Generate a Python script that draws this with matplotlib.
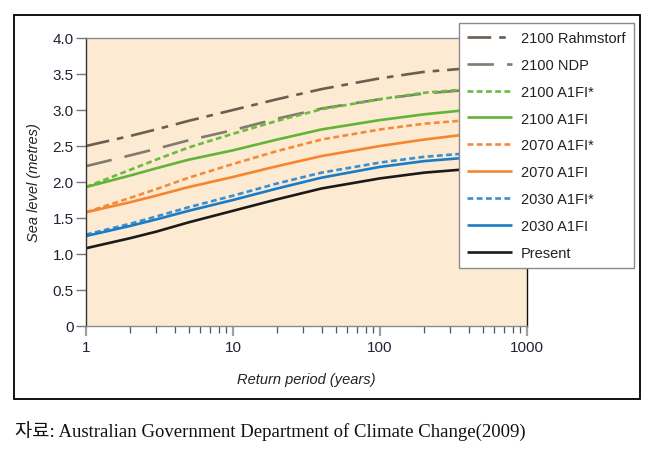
import matplotlib
matplotlib.use("Agg")
import matplotlib.pyplot as plt
from matplotlib.patches import Rectangle
from matplotlib.ticker import FixedLocator, LogLocator, NullFormatter

# Return period (years) and sea level (metres)
return_period = [1, 2, 3, 5, 10, 20, 40, 100, 200, 350, 1000]

rahmstorf_2100 = [2.50, 2.64, 2.73, 2.85, 3.00, 3.15, 3.29, 3.44, 3.53, 3.57, 3.60]
ndp_2100 = [2.22, 2.37, 2.46, 2.58, 2.72, 2.88, 3.02, 3.15, 3.23, 3.27, 3.30]
a1fi_star_2100 = [1.93, 2.17, 2.31, 2.48, 2.67, 2.85, 3.01, 3.15, 3.24, 3.28, 3.31]
a1fi_2100 = [1.93, 2.09, 2.19, 2.31, 2.44, 2.59, 2.73, 2.86, 2.94, 2.99, 3.02]
a1fi_star_2070 = [1.58, 1.78, 1.90, 2.06, 2.25, 2.43, 2.59, 2.73, 2.81, 2.85, 2.88]
a1fi_2070 = [1.58, 1.72, 1.81, 1.93, 2.07, 2.22, 2.36, 2.50, 2.59, 2.65, 2.68]
a1fi_star_2030 = [1.27, 1.42, 1.52, 1.65, 1.81, 1.98, 2.13, 2.27, 2.35, 2.39, 2.42]
a1fi_2030 = [1.25, 1.39, 1.48, 1.60, 1.75, 1.91, 2.06, 2.21, 2.29, 2.33, 2.36]
present = [1.08, 1.22, 1.31, 1.44, 1.60, 1.76, 1.91, 2.05, 2.13, 2.17, 2.20]

y_ticks = [0, 0.5, 1.0, 1.5, 2.0, 2.5, 3.0, 3.5, 4.0]
y_tick_labels = ["0", "0.5", "1.0", "1.5", "2.0", "2.5", "3.0", "3.5", "4.0"]
x_ticks = [1, 10, 100, 1000]
x_tick_labels = ["1", "10", "100", "1000"]

series = [
    ("2100 Rahmstorf", rahmstorf_2100, "#6b5e50", (0, (9, 3, 2.5, 3))),
    ("2100 NDP", ndp_2100, "#827a6e", (0, (10, 5))),
    ("2100 A1FI*", a1fi_star_2100, "#6cbb3c", (0, (2.2, 1.3))),
    ("2100 A1FI", a1fi_2100, "#62b436", "-"),
    ("2070 A1FI*", a1fi_star_2070, "#f58a3c", (0, (2.2, 1.3))),
    ("2070 A1FI", a1fi_2070, "#f5862f", "-"),
    ("2030 A1FI*", a1fi_star_2030, "#3b8ed0", (0, (2.2, 1.3))),
    ("2030 A1FI", a1fi_2030, "#1a7cc6", "-"),
    ("Present", present, "#1a1a1a", "-"),
]

plt.rcParams["font.family"] = ["Liberation Sans", "DejaVu Sans"]

fig = plt.figure(figsize=(6.58, 4.56), dpi=100)
ax = fig.add_axes([86 / 658, 1 - 327 / 456, 441 / 658, 288 / 456])
ax.set_facecolor("#fcebd2")

for label, vals, color, ls in series:
    ax.plot(return_period, vals, color=color, linestyle=ls, linewidth=1.9,
            label=label, solid_capstyle="butt", solid_joinstyle="round")

ax.set_xscale("log")
ax.set_xlim(1, 1000)
ax.set_ylim(0, 4.0)
ax.xaxis.set_major_locator(FixedLocator(x_ticks))
ax.set_xticklabels(x_tick_labels)
ax.xaxis.set_minor_locator(LogLocator(base=10, subs=range(2, 10)))
ax.xaxis.set_minor_formatter(NullFormatter())
ax.set_yticks(y_ticks)
ax.set_yticklabels(y_tick_labels)

ax.tick_params(axis="both", labelsize=11, labelcolor="#1e2233", color="#777777")
ax.tick_params(axis="y", length=7, width=1, pad=2)
ax.tick_params(axis="x", which="major", length=7, width=1.6, pad=3, color="#a0a0a0")
ax.tick_params(axis="x", which="minor", length=5, width=0.9, color="#555555")

for side in ["top", "bottom"]:
    ax.spines[side].set_color("#8a8a8a")
ax.spines["left"].set_color("#333333")
ax.spines["right"].set_color("#111111")
for s in ax.spines.values():
    s.set_linewidth(1.0)

ax.set_xlabel("Return period (years)", fontsize=10.5, style="italic",
              color="#222222", labelpad=13)
ax.set_ylabel("Sea level (metres)", fontsize=10.5, style="italic",
              color="#222222", labelpad=8)

leg = fig.legend(loc="upper left", bbox_to_anchor=(459 / 658, 1 - 24 / 456),
                 fontsize=10.5, frameon=True, fancybox=False, handlelength=3.1,
                 labelspacing=0.88, borderpad=0.55, handletextpad=0.6,
                 borderaxespad=0)
leg.get_frame().set_edgecolor("#8a8a8a")
leg.get_frame().set_linewidth(1.0)
leg.get_frame().set_facecolor("white")
leg.get_frame().set_alpha(1)
for t in leg.get_texts():
    t.set_color("#222222")

# outer frame around the figure
fig.patches.append(Rectangle((14 / 658, 1 - 400 / 456), 626 / 658, 384 / 456,
                             transform=fig.transFigure, fill=False,
                             edgecolor="black", linewidth=1.3, zorder=0))

fig.text(15 / 658, 1 - 438 / 456,
         "자료: Australian Government Department of Climate Change(2009)",
         fontsize=13.5, family=["Liberation Serif", "Noto Sans CJK KR"],
         color="#111111", va="baseline")

fig.savefig("out.png", dpi=100)
